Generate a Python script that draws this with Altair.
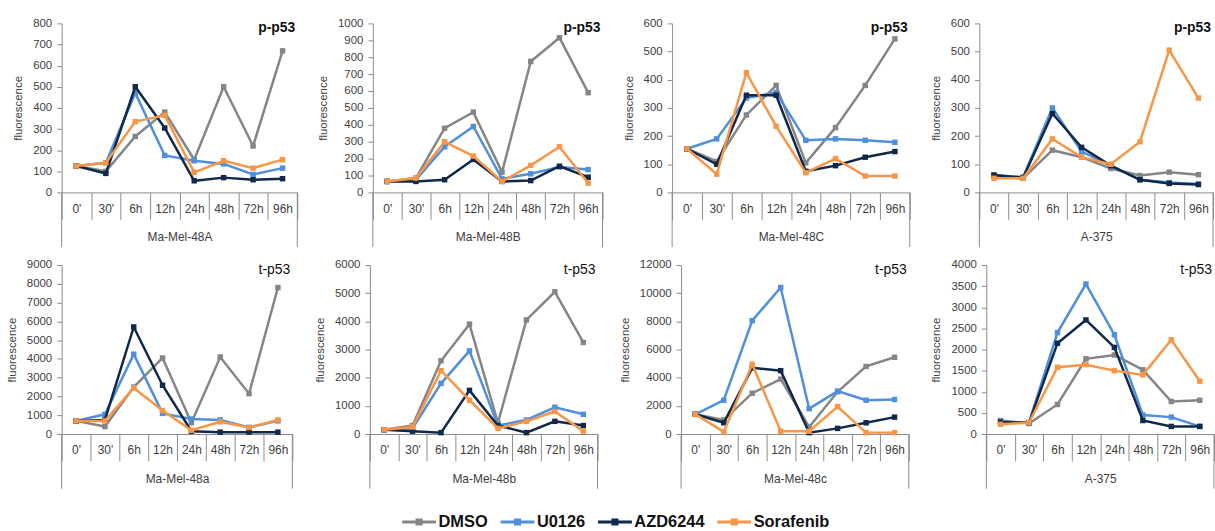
import altair as alt
import pandas as pd

TIMES = ["0'", "30'", "6h", "12h", "24h", "48h", "72h", "96h"]
TREATMENTS = ["DMSO", "U0126", "AZD6244", "Sorafenib"]
COLORS = ["#858585", "#4f8fdc", "#10284a", "#f79646"]

CELL_LINES = ["Ma-Mel-48A", "Ma-Mel-48B", "Ma-Mel-48C", "A-375",
              "Ma-Mel-48a", "Ma-Mel-48b", "Ma-Mel-48c", "A-375"]
MARKERS = ["p-p53"] * 4 + ["t-p53"] * 4
Y_MAX = [800, 1000, 600, 600, 9000, 6000, 12000, 4000]
Y_STEP = [100, 100, 100, 100, 1000, 1000, 2000, 500]

# ---- p-p53 ----
pp53_48A_dmso = [125, 100, 265, 380, 155, 500, 220, 670]
pp53_48A_u0126 = [125, 140, 470, 175, 150, 135, 85, 115]
pp53_48A_azd = [125, 90, 500, 305, 55, 70, 60, 65]
pp53_48A_sora = [125, 140, 335, 365, 95, 150, 115, 155]

pp53_48B_dmso = [65, 85, 380, 475, 120, 775, 915, 590]
pp53_48B_u0126 = [65, 75, 270, 390, 80, 110, 150, 135]
pp53_48B_azd = [65, 65, 75, 195, 65, 70, 155, 90]
pp53_48B_sora = [65, 85, 300, 215, 65, 160, 270, 55]

pp53_48C_dmso = [155, 110, 275, 380, 105, 230, 380, 545]
pp53_48C_u0126 = [155, 190, 335, 355, 185, 190, 185, 178]
pp53_48C_azd = [155, 100, 345, 345, 75, 95, 125, 145]
pp53_48C_sora = [155, 65, 425, 235, 70, 120, 58, 58]

pp53_A375_dmso = [55, 50, 150, 125, 85, 60, 72, 63]
pp53_A375_u0126 = [60, 55, 300, 145, 95, 45, 35, 30]
pp53_A375_azd = [62, 52, 280, 160, 95, 45, 32, 28]
pp53_A375_sora = [50, 50, 190, 125, 100, 180, 505, 335]

# ---- t-p53 ----
tp53_48a_dmso = [700, 400, 2500, 4050, 600, 4100, 2150, 7800]
tp53_48a_u0126 = [700, 1050, 4250, 1100, 800, 750, 350, 700]
tp53_48a_azd = [700, 750, 5700, 2600, 150, 100, 100, 100]
tp53_48a_sora = [700, 700, 2450, 1250, 200, 650, 350, 750]

tp53_48b_dmso = [150, 300, 2600, 3900, 400, 4050, 5050, 3250]
tp53_48b_u0126 = [150, 200, 1800, 2950, 300, 500, 950, 700]
tp53_48b_azd = [150, 100, 50, 1550, 300, 50, 450, 300]
tp53_48b_sora = [150, 250, 2250, 1200, 200, 450, 800, 100]

tp53_48c_dmso = [1400, 1000, 2900, 3900, 500, 3000, 4800, 5450]
tp53_48c_u0126 = [1400, 2400, 8050, 10400, 1800, 3050, 2400, 2450]
tp53_48c_azd = [1400, 800, 4700, 4500, 100, 400, 800, 1200]
tp53_48c_sora = [1400, 150, 4950, 200, 200, 1950, 100, 100]

tp53_A375_dmso = [320, 250, 700, 1780, 1870, 1520, 770, 800]
tp53_A375_u0126 = [280, 270, 2400, 3550, 2350, 450, 400, 180]
tp53_A375_azd = [280, 270, 2150, 2700, 2050, 320, 180, 180]
tp53_A375_sora = [230, 270, 1580, 1640, 1500, 1400, 2230, 1250]

PANELS = [
    [pp53_48A_dmso, pp53_48A_u0126, pp53_48A_azd, pp53_48A_sora],
    [pp53_48B_dmso, pp53_48B_u0126, pp53_48B_azd, pp53_48B_sora],
    [pp53_48C_dmso, pp53_48C_u0126, pp53_48C_azd, pp53_48C_sora],
    [pp53_A375_dmso, pp53_A375_u0126, pp53_A375_azd, pp53_A375_sora],
    [tp53_48a_dmso, tp53_48a_u0126, tp53_48a_azd, tp53_48a_sora],
    [tp53_48b_dmso, tp53_48b_u0126, tp53_48b_azd, tp53_48b_sora],
    [tp53_48c_dmso, tp53_48c_u0126, tp53_48c_azd, tp53_48c_sora],
    [tp53_A375_dmso, tp53_A375_u0126, tp53_A375_azd, tp53_A375_sora],
]

WIDTHS = [237, 231, 239, 235, 232, 229, 229, 229]
HEIGHT = 170
SEP_LEN = 55
FONT = "Liberation Sans"
AXIS_GRAY = "#8c8c8c"
TEXT_GRAY = "#404040"

LEGEND = alt.Legend(
    title=None,
    orient="none",
    legendX=341,
    legendY=483,
    direction="horizontal",
    columns=4,
    padding=0,
    columnPadding=6,
    labelFont=FONT,
    labelFontSize=16.5,
    labelFontWeight="bold",
    labelColor="#111111",
    labelOffset=1,
    symbolType="M-1,0H1M-0.12,-0.12H0.12V0.12H-0.12Z",
    symbolSize=1156,
    symbolStrokeWidth=3,
    symbolOpacity=1,
)


def make_panel(i):
    W = WIDTHS[i]
    rows = []
    for t, vals in zip(TREATMENTS, PANELS[i]):
        for tm, v in zip(TIMES, vals):
            rows.append({"time": tm, "treatment": t, "value": v})
    df = pd.DataFrame(rows)

    x = alt.X(
        "time:N", sort=TIMES,
        scale=alt.Scale(type="band", paddingInner=0, paddingOuter=0),
        axis=alt.Axis(
            title=CELL_LINES[i], tickBand="extent",
            labelAngle=0, tickSize=27, labelPadding=-16, titlePadding=12,
            domainColor=AXIS_GRAY, tickColor=AXIS_GRAY, labelColor=TEXT_GRAY,
            titleColor=TEXT_GRAY, labelFont=FONT, titleFont=FONT,
            labelFontSize=12, titleFontSize=12, titleFontWeight="normal",
            grid=False,
        ),
    )
    y = alt.Y(
        "value:Q",
        scale=alt.Scale(domain=[0, Y_MAX[i]], nice=False, zero=True),
        axis=alt.Axis(
            title="fluorescence", values=list(range(0, Y_MAX[i] + 1, Y_STEP[i])),
            format="d",
            tickSize=5, labelPadding=5, titlePadding=9,
            domainColor=AXIS_GRAY, tickColor=AXIS_GRAY, labelColor=TEXT_GRAY,
            titleColor=TEXT_GRAY, labelFont=FONT, titleFont=FONT,
            labelFontSize=11.5, titleFontSize=11.5, titleFontWeight="normal",
            grid=False,
        ),
    )
    color = alt.Color("treatment:N",
                      scale=alt.Scale(domain=TREATMENTS, range=COLORS),
                      legend=LEGEND)
    base = alt.Chart(df).encode(x=x, y=y, color=color)

    layers = []
    for t in TREATMENTS:
        sub = base.transform_filter(alt.datum.treatment == t)
        layers.append(sub.mark_line(strokeWidth=2.5))
        layers.append(sub.mark_point(shape="square", filled=True, size=30, opacity=1))

    one = alt.Data(values=[{"k": 1}])
    sep_left = alt.Chart(one).mark_rule(color=AXIS_GRAY, strokeWidth=1).encode(
        x=alt.value(0), y=alt.value(HEIGHT), y2=alt.value(HEIGHT + SEP_LEN))
    sep_right = alt.Chart(one).mark_rule(color=AXIS_GRAY, strokeWidth=1).encode(
        x=alt.value(W), y=alt.value(HEIGHT), y2=alt.value(HEIGHT + SEP_LEN))
    label = alt.Chart(alt.Data(values=[{"m": MARKERS[i]}])).mark_text(
        align="right", baseline="alphabetic", font=FONT, fontSize=14,
        fontWeight="bold" if i < 4 else "normal", color="#111111",
    ).encode(x=alt.value(W - 2), y=alt.value(9), text="m:N")

    return alt.layer(*layers, sep_left, sep_right, label).properties(
        width=W, height=HEIGHT)


row1 = alt.hconcat(*[make_panel(i) for i in range(4)], spacing=19)
row2 = alt.hconcat(*[make_panel(i) for i in range(4, 8)], spacing=21)

chart = alt.vconcat(row1, row2, spacing=11).properties(
    padding={"left": 6, "top": 16, "right": 0, "bottom": 0},
    background="white",
).configure_view(strokeWidth=0)

chart.save("out.html", embed_options={"renderer": "svg", "actions": False})
